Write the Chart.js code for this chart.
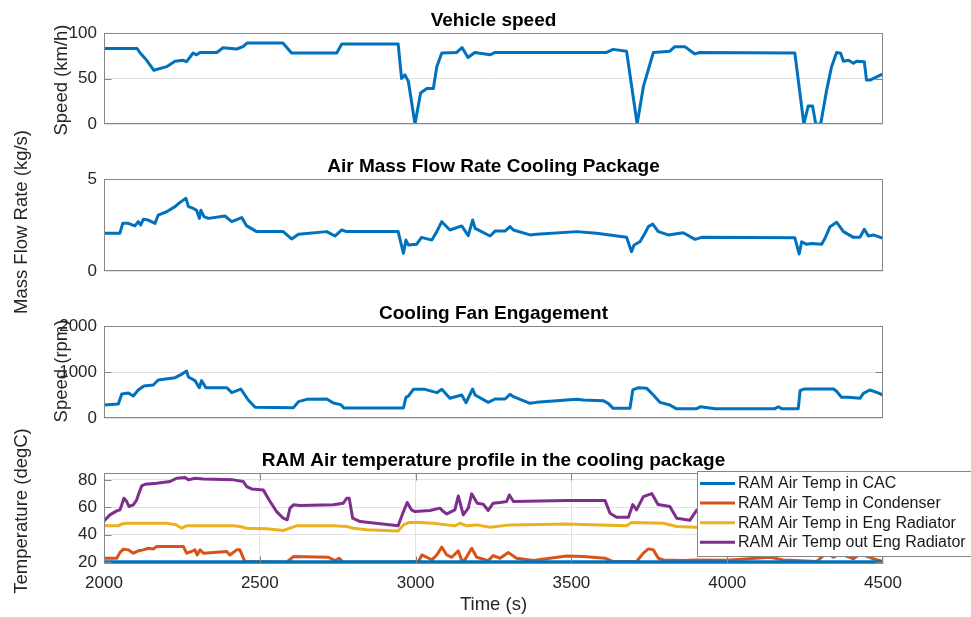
<!DOCTYPE html>
<html><head><meta charset="utf-8">
<script src="https://cdn.jsdelivr.net/npm/chart.js@4.4.0/dist/chart.umd.min.js"></script>
<style>
html,body{margin:0;padding:0;background:#fff;overflow:hidden;width:971px;height:617px;}
canvas{position:absolute;left:0;top:0;}
</style></head><body>
<canvas id="c1" width="971" height="617"></canvas>
<canvas id="c2" width="971" height="617"></canvas>
<canvas id="c3" width="971" height="617"></canvas>
<canvas id="c4" width="971" height="617"></canvas>
<script>
// ---------- DATA ----------
const xTicks = [2000, 2500, 3000, 3500, 4000, 4500];

const speedTime = [2000,2106,2116,2137,2160,2201,2228,2254,2265,2286,2297,2308,2362,2382,2426,2446,2459,2574,2602,2747,2763,2944,2955,2966,2977,2998,3016,3036,3057,3068,3084,3132,3149,3168,3190,3239,3255,3613,3634,3677,3711,3731,3763,3816,3832,3864,3896,3912,4217,4246,4260,4274,4284,4300,4319,4335,4351,4364,4373,4389,4405,4415,4440,4447,4460,4500];
const speedKmh = [83,83,78,70,59,63,69,70,68.5,78,76,78.6,78.6,83.8,82.4,85,89,89,78,78,88,88,50,54,46.5,0,34,39,39,63,78,78.6,84,73,78.6,76,78.6,78.6,82,80,0,41,78.6,80,85,85,77,78.6,78,0,19.8,19.8,0,0,37,63,78.6,77.7,69,70,66.7,69,68.5,48.4,48.4,55];
const speedTicks = [0, 50, 100];

const flowTime = [2000,2051,2060,2078,2099,2110,2118,2126,2142,2164,2174,2201,2228,2244,2263,2271,2287,2297,2306,2311,2321,2335,2372,2388,2410,2442,2458,2490,2575,2602,2624,2715,2741,2763,2779,2944,2961,2969,2977,3003,3019,3052,3068,3084,3110,3148,3169,3183,3191,3239,3255,3287,3303,3314,3367,3388,3517,3581,3677,3693,3701,3720,3736,3747,3761,3779,3811,3859,3897,3918,4217,4231,4239,4255,4271,4303,4314,4330,4351,4373,4405,4426,4440,4453,4469,4500];
const flowKgs = [2.05,2.05,2.59,2.59,2.45,2.68,2.5,2.81,2.77,2.59,3.04,3.22,3.5,3.73,3.95,3.5,3.4,3.3,2.86,3.3,2.95,2.86,2.95,2.99,2.68,2.9,2.45,2.14,2.14,1.74,2.0,2.14,1.9,2.23,2.14,2.14,0.96,1.68,1.41,1.45,1.83,1.68,2.14,2.68,2.23,2.45,1.92,2.77,2.32,1.9,2.17,2.17,2.41,2.23,1.96,2.0,2.14,2.05,1.83,1.05,1.41,1.59,2.05,2.41,2.55,2.14,1.96,2.08,1.72,1.83,1.81,0.92,1.59,1.45,1.5,1.45,1.78,2.41,2.65,2.14,1.83,1.83,2.27,1.9,1.96,1.78];
const flowTicks = [0, 5];

const fanTime = [2000,2046,2057,2078,2094,2110,2128,2158,2174,2228,2249,2265,2271,2292,2306,2313,2327,2394,2410,2439,2463,2485,2608,2624,2651,2715,2736,2760,2770,2961,2969,2977,2993,3030,3068,3084,3110,3148,3162,3183,3191,3233,3255,3287,3303,3314,3367,3388,3517,3538,3602,3618,3634,3688,3697,3715,3742,3763,3784,3816,3836,3902,3915,3961,4153,4164,4175,4228,4234,4246,4341,4351,4367,4389,4426,4437,4458,4480,4500];
const fanRpm = [283,304,522,543,478,609,696,717,826,877,949,1022,891,812,659,812,659,659,551,630,391,232,225,355,406,413,326,290,217,217,449,478,623,623,551,623,428,500,333,630,500,340,413,413,514,464,319,340,406,390,377,319,210,210,609,659,645,500,340,283,203,203,246,203,203,246,203,203,594,630,630,580,449,449,428,536,609,558,500];
const fanTicks = [0, 1000, 2000];

const cacTime = [2000,2500,3000,3500,4000,4500];
const cacTemp = [20.2,20.2,20.2,20.2,20.2,20.2];

const condTime = [2000,2041,2051,2062,2078,2094,2110,2126,2142,2158,2169,2255,2265,2281,2292,2299,2308,2319,2394,2404,2426,2436,2452,2586,2608,2720,2741,2755,2768,2950,3009,3020,3036,3052,3068,3084,3100,3116,3137,3148,3158,3180,3196,3233,3249,3271,3298,3324,3378,3431,3485,3538,3608,3634,3709,3731,3747,3763,3779,3795,3859,3902,4000,4137,4180,4287,4319,4341,4362,4383,4405,4426,4447,4469,4500];
const condTemp = [22.9,22.9,27,29.5,29,26.6,28.3,29,30.2,29.7,31.4,31.4,26.6,27.8,29,25.3,29,26.6,27.8,25.3,29,29,20.5,20,24.1,23.6,21.2,22.9,20,20,20.5,25.3,23.6,21.7,25.3,31,25.3,23.6,28.3,21.2,21.7,30.2,23.6,21.2,24.8,22.9,27,22.9,21.2,22.9,24.6,24.1,22.9,20.5,20.5,26.6,29.7,29,22.9,21.7,21.2,21.7,21.5,23.6,21.7,20.5,27,23.6,26,24.5,22.5,26,24.5,22.5,20.5];

const engInTime = [2000,2046,2057,2073,2201,2233,2249,2265,2415,2436,2458,2522,2575,2597,2618,2736,2779,2800,2843,2944,2961,2977,3014,3057,3100,3126,3142,3164,3196,3239,3303,3485,3677,3693,3795,3838,3902,4000,4150,4300,4420,4500];
const engInTemp = [46.5,46.5,47.9,48.4,48.4,47.2,44.8,46.5,46.5,46,44.8,44.3,43.1,44.8,46.5,46.5,46,44.8,43.6,42.8,47.2,48.9,48.9,48.4,47.2,46.5,48.4,46.5,47.2,45.5,47.2,47.9,46.5,48.9,48.4,46,45.5,46,47,47.5,46.5,47];

const engOutTime = [2000,2019,2041,2051,2057,2064,2073,2080,2094,2105,2110,2121,2132,2169,2212,2233,2260,2271,2292,2319,2415,2447,2458,2474,2511,2533,2554,2575,2588,2597,2608,2629,2736,2768,2779,2787,2798,2822,2944,2961,2973,2987,2998,3046,3078,3089,3100,3126,3137,3153,3169,3180,3198,3217,3233,3249,3271,3292,3301,3314,3485,3608,3624,3645,3683,3697,3709,3731,3758,3778,3816,3838,3880,3902,3950,4100,4220,4260,4330,4400,4500];
const engOutTemp = [50.1,54.5,57.4,58.1,61.8,66.6,64.2,60.6,61.8,65.4,69,75.6,76.8,77.6,78.8,81.2,81.7,80,81.2,80.7,80,78.8,75.1,73.4,72.7,64.2,56.9,52.1,50.9,59.4,61.8,61.3,61.8,63,66.6,66.6,52.1,49.6,46.5,56.9,63.5,58.1,56.9,57.7,59.4,56.9,55.2,58.1,68.3,54.5,59.4,69.8,63,62.3,57.7,63,63.5,64.2,69,64.2,64.9,64.9,55.7,52.8,52.8,62,58.1,67.8,70,62,60.6,52,50.5,58,62,63,62,52,60,63,58];
const tempTicks = [20, 40, 60, 80];

const seriesNames = ['RAM Air Temp in CAC','RAM Air Temp in Condenser','RAM Air Temp in Eng Radiator','RAM Air Temp out Eng Radiator'];
const seriesColors = ['#0072BD','#D95319','#EDB120','#7E2F8E'];

// ---------- STYLE / HELPERS ----------
const FONT = '"Liberation Sans", Arial, Helvetica, sans-serif';
Chart.defaults.font.family = FONT;
const AX = '#262626', BOX = '#868686', GRID = '#e2e2e2';

function pts(ts, vs) { return ts.map((t, i) => ({x: t, y: vs[i]})); }

const decor = {
  id: 'decor',
  afterDatasetsDraw(chart, args, o) {
    const {ctx, chartArea: a} = chart;
    ctx.save();
    ctx.strokeStyle = BOX; ctx.lineWidth = 1;
    const L = Math.round(a.left) + 0.5, R = Math.round(a.right) - 0.5;
    const T = Math.round(a.top) + 0.5, B = Math.round(a.bottom) - 0.5;
    ctx.strokeRect(L, T, R - L, B - T);
    const ys = chart.scales.y;
    ctx.beginPath();
    ys.ticks.forEach(t => {
      let p = Math.round(ys.getPixelForValue(t.value)) + 0.5;
      p = Math.min(B, Math.max(T, p));
      ctx.moveTo(L, p); ctx.lineTo(L + 7, p);
      ctx.moveTo(R, p); ctx.lineTo(R - 7, p);
    });
    if (o.xTickMarks) {
      const xs = chart.scales.x;
      xs.ticks.forEach(t => {
        let p = Math.round(xs.getPixelForValue(t.value)) + 0.5;
        p = Math.min(R, Math.max(L, p));
        ctx.moveTo(p, B); ctx.lineTo(p, B - 7);
        ctx.moveTo(p, T); ctx.lineTo(p, T + 7);
      });
    }
    ctx.stroke();
    // title
    ctx.fillStyle = '#000';
    ctx.font = 'bold 19px ' + FONT;
    ctx.textAlign = 'center'; ctx.textBaseline = 'alphabetic';
    ctx.fillText(o.title, (a.left + a.right) / 2, a.top - 7);
    // y label
    ctx.fillStyle = AX;
    ctx.font = '18.5px ' + FONT;
    ctx.translate(o.ylabelX, o.ylabelY);
    ctx.rotate(-Math.PI / 2);
    ctx.textBaseline = 'middle';
    ctx.fillText(o.ylabel, 0, 0);
    ctx.restore();
  },
  afterDraw(chart, args, o) {
    if (!o.legend) return;
    const {ctx} = chart;
    const lg = o.legend;
    ctx.save();
    ctx.fillStyle = '#fff';
    ctx.fillRect(lg.x, lg.y, lg.w, lg.h);
    ctx.strokeStyle = BOX; ctx.lineWidth = 1;
    ctx.strokeRect(lg.x + 0.5, lg.y + 0.5, lg.w, lg.h);
    ctx.font = '16px ' + FONT;
    ctx.textAlign = 'left'; ctx.textBaseline = 'middle';
    chart.data.datasets.forEach((ds, i) => {
      const y = lg.y + 12.5 + i * 19.6;
      ctx.strokeStyle = ds.borderColor; ctx.lineWidth = 3;
      ctx.beginPath(); ctx.moveTo(lg.x + 3, y); ctx.lineTo(lg.x + 38, y); ctx.stroke();
      ctx.fillStyle = '#1a1a1a';
      ctx.fillText(ds.label, lg.x + 41, y + 0.5);
    });
    ctx.restore();
  }
};

function ticksFrom(list) {
  return function (scale) { scale.ticks = list.map(v => ({value: v})); };
}

function makeChart(id, cfg) {
  const datasets = cfg.series.map(s => ({
    label: s.label, data: s.data, borderColor: s.color, backgroundColor: s.color,
    borderWidth: s.width || 3, pointRadius: 0, tension: 0, fill: false,
    borderJoinStyle: 'round', borderCapStyle: 'round'
  }));
  const xScale = {
    type: 'linear', min: 2000, max: 4500,
    afterBuildTicks: ticksFrom(xTicks),
    display: cfg.showX ? true : false,
    grid: {display: cfg.xGrid, color: GRID, drawTicks: false},
    border: {display: false},
    ticks: {display: cfg.showX, color: AX, font: {size: 17}, padding: 9, maxRotation: 0,
            callback: v => String(v)},
    title: {display: cfg.showX, text: 'Time (s)', color: AX, font: {size: 18.5}, padding: {top: 0, bottom: 1}},
    afterFit: s => { s.height = cfg.xHeight; }
  };
  return new Chart(document.getElementById(id), {
    type: 'line',
    data: {datasets},
    options: {
      responsive: false, animation: false, events: [],
      layout: {padding: {top: cfg.top, bottom: cfg.bottomPad, left: 0, right: 88}},
      scales: {
        x: xScale,
        y: {
          type: 'linear', min: cfg.ymin, max: cfg.ymax,
          afterBuildTicks: ticksFrom(cfg.yticks),
          grid: {color: GRID, drawTicks: false},
          border: {display: false},
          ticks: {color: AX, font: {size: 17}, padding: 7, callback: v => String(v)},
          afterFit: s => { s.width = 104; }
        }
      },
      plugins: {
        legend: {display: false}, tooltip: {enabled: false}, title: {display: false},
        decor: {title: cfg.title, ylabel: cfg.ylabel, ylabelX: cfg.ylabelX, ylabelY: cfg.ylabelY,
                xTickMarks: cfg.showX, legend: cfg.legend}
      }
    },
    plugins: [decor]
  });
}

makeChart('c1', {
  series: [{label: 'Vehicle speed', data: pts(speedTime, speedKmh), color: seriesColors[0]}],
  top: 33, bottomPad: 493, xHeight: 0, showX: false, xGrid: false,
  ymin: 0, ymax: 100, yticks: speedTicks,
  title: 'Vehicle speed', ylabel: 'Speed (km/h)', ylabelX: 62, ylabelY: 80
});
makeChart('c2', {
  series: [{label: 'Air mass flow', data: pts(flowTime, flowKgs), color: seriesColors[0]}],
  top: 179, bottomPad: 346, xHeight: 0, showX: false, xGrid: false,
  ymin: 0, ymax: 5, yticks: flowTicks,
  title: 'Air Mass Flow Rate Cooling Package', ylabel: 'Mass Flow Rate (kg/s)', ylabelX: 22, ylabelY: 222
});
makeChart('c3', {
  series: [{label: 'Fan speed', data: pts(fanTime, fanRpm), color: seriesColors[0]}],
  top: 326, bottomPad: 199, xHeight: 0, showX: false, xGrid: false,
  ymin: 0, ymax: 2000, yticks: fanTicks,
  title: 'Cooling Fan Engagement', ylabel: 'Speed (rpm)', ylabelX: 62, ylabelY: 371
});
makeChart('c4', {
  series: [
    {label: seriesNames[0], data: pts(cacTime, cacTemp), color: seriesColors[0], width: 3.6},
    {label: seriesNames[1], data: pts(condTime, condTemp), color: seriesColors[1]},
    {label: seriesNames[2], data: pts(engInTime, engInTemp), color: seriesColors[2]},
    {label: seriesNames[3], data: pts(engOutTime, engOutTemp), color: seriesColors[3]}
  ],
  top: 473, bottomPad: 0, xHeight: 53, showX: true, xGrid: true,
  ymin: 18.7, ymax: 85, yticks: tempTicks,
  title: 'RAM Air temperature profile in the cooling package', ylabel: 'Temperature (degC)', ylabelX: 22, ylabelY: 511,
  legend: {x: 697, y: 471, w: 280, h: 85}
});
</script>
</body></html>
